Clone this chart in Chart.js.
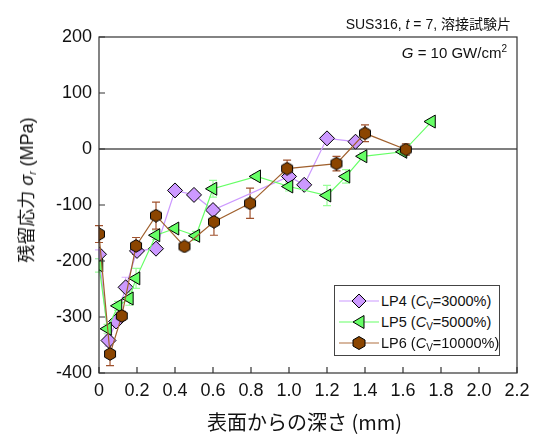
<!DOCTYPE html>
<html>
<head>
<meta charset="utf-8">
<script src="https://cdn.jsdelivr.net/npm/chart.js@4.4.1/dist/chart.umd.min.js"></script>
<style>
    body { margin: 0; background: #fff; }
    #wrap { position: relative; width: 537px; height: 435px; font-family: "Liberation Sans", Arial, sans-serif; color: #111; }
    #wrap canvas { position: absolute; left: 0; top: 0; }
    .note { position: absolute; white-space: nowrap; }
    .jp { font-family: "Noto Sans CJK JP", "Liberation Sans", sans-serif; }
    #legend { position: absolute; left: 334px; top: 285px; width: 164px; height: 69px; border: 1px solid #444; background: #fff; font-size: 14.5px; }
    #legend .row { position: absolute; left: 0; height: 20px; line-height: 20px; }
    #legend svg { position: absolute; left: 2px; top: 0; }
    #legend span { position: absolute; left: 46px; top: 0; white-space: nowrap; }
    sub { font-size: 10px; vertical-align: -3px; }
</style>
</head>
<body>
<div id="wrap">
    <canvas id="chart" width="537" height="435"></canvas>

    <div class="note" style="right: 26px; top: 13px; font-size: 14px;">SUS316, <i>t</i> = 7, <span class="jp">溶接試験片</span></div>
    <div class="note" style="right: 30px; top: 43px; font-size: 15px;"><i>G</i> = 10 GW/cm<sup style="font-size:10px;">2</sup></div>

    <div class="note jp" style="left: 207px; top: 407px; font-size: 20px;">表面からの深さ (mm)</div>
    <div class="note" style="left: 25px; top: 190px; font-size: 18px; transform: translate(-50%, -50%) rotate(-90deg);"><span class="jp">残留応力</span>&nbsp;<i>σ</i><sub><i>r</i></sub> (MPa)</div>

    <div id="legend">
        <div class="row" style="top: 5px;">
            <svg width="44" height="20"><line x1="2" y1="10" x2="42" y2="10" stroke="#cc99ff" stroke-width="1.2"/><polygon points="22,3 29,10 22,17 15,10" fill="#cc99ff" stroke="#000" stroke-width="1"/></svg>
            <span>LP4 (<i>C</i><sub>V</sub>=3000%)</span>
        </div>
        <div class="row" style="top: 26px;">
            <svg width="44" height="20"><line x1="2" y1="10" x2="42" y2="10" stroke="#66ff66" stroke-width="1.2"/><polygon points="16,10 27,3.5 27,16.5" fill="#66ff66" stroke="#000" stroke-width="1"/></svg>
            <span>LP5 (<i>C</i><sub>V</sub>=5000%)</span>
        </div>
        <div class="row" style="top: 47px;">
            <svg width="44" height="20"><line x1="2" y1="10" x2="42" y2="10" stroke="#b07040" stroke-width="1.2"/><polygon points="22,3.5 28,7 28,13 22,16.5 16,13 16,7" fill="#8b4500" stroke="#000" stroke-width="1"/></svg>
            <span>LP6 (<i>C</i><sub>V</sub>=10000%)</span>
        </div>
    </div>
</div>

<script>
// depth (mm) and residual stress (MPa)
const lp4Depth  = [0, 0.05, 0.09, 0.14, 0.2, 0.3, 0.4, 0.5, 0.6, 1.0, 1.08, 1.2, 1.35];
const lp4Stress = [-188, -342, -308, -247, -182, -178, -74, -82, -109, -49, -64, 19, 13];
const lp4Err    = [8, 10, 8, 18, 8, 5, 4, 4, 8, 8, 5, 4, 5];

const lp5Depth  = [0, 0.045, 0.1, 0.16, 0.195, 0.3, 0.4, 0.51, 0.6, 0.83, 1.0, 1.2, 1.3, 1.39, 1.6, 1.75];
const lp5Stress = [-208, -321, -280, -267, -231, -154, -142, -155, -71, -49, -67, -83, -49, -13, -5, 49];
const lp5Err    = [12, 8, 8, 12, 18, 8, 5, 8, 15, 5, 8, 18, 12, 6, 5, 4];

const lp6Depth  = [0, 0.058, 0.12, 0.195, 0.3, 0.45, 0.605, 0.795, 0.99, 1.25, 1.4, 1.615];
const lp6Stress = [-152, -366, -298, -173, -119, -174, -130, -97, -35, -26, 28, -1];
const lp6Err    = [15, 21, 8, 15, 24, 5, 24, 27, 15, 13, 15, 10];

const xTicks = [0, 0.2, 0.4, 0.6, 0.8, 1.0, 1.2, 1.4, 1.6, 1.8, 2.0, 2.2];
const yTicks = [-400, -300, -200, -100, 0, 100, 200];

function toPoints(xs, ys) {
    return xs.map((x, i) => ({ x: x, y: ys[i] }));
}

// hexagon marker for LP6
function makeHexagon() {
    const c = document.createElement('canvas');
    c.width = 14;
    c.height = 14;
    const g = c.getContext('2d');
    g.beginPath();
    for (let i = 0; i < 6; i++) {
        const a = Math.PI / 2 + i * Math.PI / 3;
        const px = 7 + 6.3 * Math.cos(a);
        const py = 7 - 6.3 * Math.sin(a);
        if (i === 0) g.moveTo(px, py); else g.lineTo(px, py);
    }
    g.closePath();
    g.fillStyle = '#8b4500';
    g.fill();
    g.lineWidth = 1;
    g.strokeStyle = '#000';
    g.stroke();
    return c;
}

// error bars, frame, zero line and inward ticks
const decorPlugin = {
    id: 'decor',
    beforeDatasetsDraw(chart) {
        const ctx = chart.ctx;
        const xs = chart.scales.x, ys = chart.scales.y;
        chart.data.datasets.forEach(ds => {
            if (!ds.err) return;
            ctx.save();
            ctx.strokeStyle = ds.errColor;
            ctx.lineWidth = 1.2;
            ds.data.forEach((p, i) => {
                const px = xs.getPixelForValue(p.x);
                const top = ys.getPixelForValue(p.y + ds.err[i]);
                const bot = ys.getPixelForValue(p.y - ds.err[i]);
                ctx.beginPath();
                ctx.moveTo(px, top); ctx.lineTo(px, bot);
                ctx.moveTo(px - 4, top); ctx.lineTo(px + 4, top);
                ctx.moveTo(px - 4, bot); ctx.lineTo(px + 4, bot);
                ctx.stroke();
            });
            ctx.restore();
        });

        const a = chart.chartArea;
        ctx.save();
        ctx.strokeStyle = '#000';
        ctx.lineWidth = 1.2;
        const y0 = ys.getPixelForValue(0);
        ctx.beginPath();
        ctx.moveTo(a.left, y0); ctx.lineTo(a.right, y0);
        ctx.stroke();
        ctx.restore();
    },
    afterDraw(chart) {
        const ctx = chart.ctx;
        const a = chart.chartArea;
        const xs = chart.scales.x, ys = chart.scales.y;
        ctx.save();
        ctx.strokeStyle = '#333';
        ctx.lineWidth = 1.2;
        ctx.strokeRect(a.left, a.top, a.right - a.left, a.bottom - a.top);
        ctx.beginPath();
        xTicks.forEach(v => {
            const px = xs.getPixelForValue(v);
            ctx.moveTo(px, a.bottom); ctx.lineTo(px, a.bottom - 6);
        });
        yTicks.forEach(v => {
            const py = ys.getPixelForValue(v);
            ctx.moveTo(a.left, py); ctx.lineTo(a.left + 6, py);
        });
        ctx.stroke();
        ctx.restore();
    }
};

const tickFont = { family: '"Liberation Sans", Arial, sans-serif', size: 18 };

new Chart(document.getElementById('chart'), {
    type: 'line',
    data: {
        datasets: [
            {
                label: 'LP4',
                data: toPoints(lp4Depth, lp4Stress),
                err: lp4Err,
                errColor: '#d9b3ff',
                borderColor: '#cc99ff',
                backgroundColor: '#cc99ff',
                borderWidth: 1.2,
                pointStyle: 'rectRot',
                pointRadius: 7.5,
                pointBorderColor: '#000',
                pointBorderWidth: 1,
                order: 3
            },
            {
                label: 'LP5',
                data: toPoints(lp5Depth, lp5Stress),
                err: lp5Err,
                errColor: '#99ff99',
                borderColor: '#66ff66',
                backgroundColor: '#66ff66',
                borderWidth: 1.2,
                pointStyle: 'triangle',
                rotation: -90,
                pointRadius: 7.5,
                pointBorderColor: '#000',
                pointBorderWidth: 1,
                order: 2
            },
            {
                label: 'LP6',
                data: toPoints(lp6Depth, lp6Stress),
                err: lp6Err,
                errColor: '#a0522d',
                borderColor: '#a0602d',
                backgroundColor: '#8b4500',
                borderWidth: 1.2,
                pointStyle: makeHexagon(),
                pointRadius: 7,
                order: 1
            }
        ]
    },
    options: {
        responsive: false,
        animation: false,
        layout: { padding: { top: 37, right: 20, left: 0, bottom: 0 } },
        plugins: {
            legend: { display: false },
            tooltip: { enabled: false }
        },
        scales: {
            x: {
                type: 'linear',
                min: 0,
                max: 2.2,
                afterFit: s => { s.height = 62; },
                afterBuildTicks: s => { s.ticks = xTicks.map(v => ({ value: v })); },
                grid: { display: false, drawTicks: false },
                border: { display: false },
                ticks: {
                    padding: 7,
                    color: '#111',
                    font: tickFont,
                    maxRotation: 0,
                    callback: v => v === 0 ? '0' : v.toFixed(1)
                }
            },
            y: {
                min: -400,
                max: 200,
                afterFit: s => { s.width = 99; },
                afterBuildTicks: s => { s.ticks = yTicks.map(v => ({ value: v })); },
                grid: { display: false, drawTicks: false },
                border: { display: false },
                ticks: {
                    padding: 7,
                    color: '#111',
                    font: tickFont,
                    callback: v => String(v)
                }
            }
        }
    },
    plugins: [decorPlugin]
});
</script>
</body>
</html>
